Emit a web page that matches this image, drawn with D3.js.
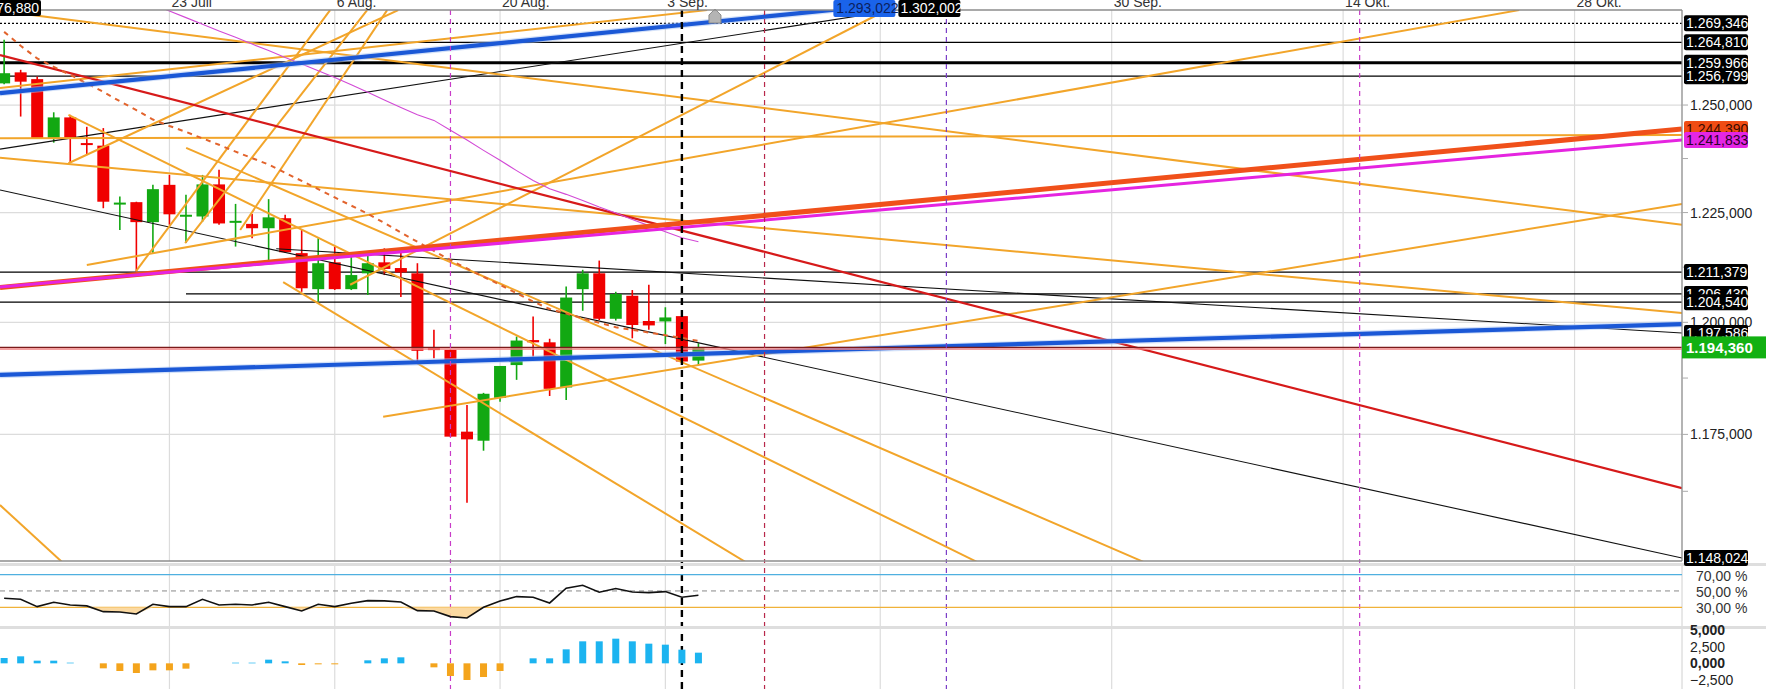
<!DOCTYPE html>
<html><head><meta charset="utf-8">
<script src="https://cdn.jsdelivr.net/npm/d3@7"></script>
<style>body{margin:0;background:#fff;overflow:hidden}svg{display:block;font-family:"Liberation Sans",Arial,sans-serif}</style>
</head><body><svg id="c" width="1766" height="689"></svg>
<script>
// ---------- DATA ----------
const candleDates = ["2018-07-09","2018-07-10","2018-07-11","2018-07-12","2018-07-13",
"2018-07-16","2018-07-17","2018-07-18","2018-07-19","2018-07-20",
"2018-07-23","2018-07-24","2018-07-25","2018-07-26","2018-07-27",
"2018-07-30","2018-07-31","2018-08-01","2018-08-02","2018-08-03",
"2018-08-06","2018-08-07","2018-08-08","2018-08-09","2018-08-10",
"2018-08-13","2018-08-14","2018-08-15","2018-08-16","2018-08-17",
"2018-08-20","2018-08-21","2018-08-22","2018-08-23","2018-08-24",
"2018-08-27","2018-08-28","2018-08-29","2018-08-30","2018-08-31",
"2018-09-03","2018-09-04","2018-09-05"];
const openP  = [1255.1,1257.7,1256.1,1242.2,1247.1,1241.1,1240.5,1227.2,1227.4,1222.8,1231.4,1224.4,1224.1,1231.5,1223.0,1222.4,1221.4,1223.7,1215.7,1207.5,1213.6,1207.5,1211.1,1213.6,1212.3,1211.1,1194.2,1193.8,1175.6,1173.6,1183.1,1190.4,1196.0,1195.5,1185.4,1207.5,1211.1,1200.8,1206.0,1200.3,1200.2,1201.4,1191.4];
const highP  = [1265.4,1258.3,1256.7,1248.3,1247.7,1244.9,1244.6,1228.7,1227.5,1231.4,1233.7,1229.1,1233.7,1234.9,1227.0,1224.7,1228.1,1224.5,1221.0,1219.1,1217.2,1215.1,1215.3,1216.8,1216.0,1213.4,1198.3,1193.9,1181.5,1184.2,1190.2,1196.8,1201.3,1196.3,1208.1,1211.9,1214.0,1206.9,1207.3,1208.5,1203.4,1201.4,1195.3];
const lowP   = [1254.9,1247.3,1242.1,1241.2,1236.5,1238.3,1226.0,1221.0,1211.5,1215.7,1222.2,1218.0,1222.9,1222.2,1217.2,1219.1,1214.1,1215.8,1206.9,1204.7,1207.3,1207.3,1206.2,1210.7,1205.7,1191.2,1191.9,1174.4,1160.0,1171.4,1182.2,1187.1,1192.3,1183.5,1182.6,1202.6,1200.5,1200.4,1196.4,1198.3,1195.1,1190.9,1190.4];
const closeP = [1257.5,1255.5,1242.2,1247.1,1242.2,1241.0,1227.5,1227.3,1222.8,1230.4,1224.6,1224.5,1231.5,1222.5,1223.1,1221.4,1223.9,1215.9,1207.7,1213.4,1207.5,1210.7,1213.4,1212.1,1211.3,1193.6,1193.8,1174.5,1173.9,1184.0,1190.2,1195.9,1195.5,1185.1,1205.6,1211.1,1200.8,1206.4,1199.4,1199.3,1201.1,1191.2,1194.36];
const maFast = [1267.3,1264.0,1261.0,1259.0,1257.1,1255.1,1253.1,1250.9,1248.8,1246.6,1245.1,1243.7,1242.2,1240.7,1239.1,1237.6,1236.1,1234.2,1232.3,1230.4,1228.5,1226.6,1224.7,1222.6,1220.4,1218.3,1216.2,1214.1,1212.2,1210.3,1208.5,1206.6,1204.7,1203.0,1202.0,1200.9,1199.9,1198.9,1198.3,1197.7,1197.1,1196.5,1195.8];
const maSlow = [null,null,null,null,null,null,null,null,null,1273.8,1272.3,1270.7,1269.1,1267.5,1266.0,1264.4,1262.9,1261.2,1259.7,1258.1,1256.5,1254.8,1253.0,1251.2,1249.4,1247.7,1246.4,1244.1,1241.8,1239.4,1237.1,1234.7,1232.4,1230.5,1229.2,1227.8,1226.3,1224.9,1223.4,1222.0,1220.6,1219.2,1218.3];
const rsiValues = [41.0,39.8,30.8,36.1,32.9,31.7,24.7,24.3,21.9,33.7,30.8,30.8,39.8,32.9,33.7,32.9,36.1,30.8,25.5,33.7,30.8,34.9,38.2,37.8,36.5,25.9,25.5,18.6,17.0,30.0,37.8,43.1,42.3,35.3,53.3,56.9,48.4,52.9,48.8,48.0,49.2,42.3,44.7];
const histValues = [0.8,1.05,0.4,0.4,0.1,0,-0.75,-1.15,-1.45,-1.05,-1.05,-0.8,0,0,0.1,0.1,0.55,0.3,-0.25,-0.15,-0.15,0,0.45,0.75,0.9,0,-0.6,-1.9,-2.5,-2.05,-1.15,0,0.75,0.75,2.1,3.3,3.3,3.7,3.3,2.95,2.8,2.05,1.6];

const dateTicks = ["2018-07-23","2018-08-06","2018-08-20","2018-09-03","2018-09-16","2018-09-30","2018-10-14","2018-10-28"];
const dateTickLabels = ["23 Juli","6 Aug.","20 Aug.","3 Sep.","","30 Sep.","14 Okt.","28 Okt."];
const priceTicks = [1250,1225,1200,1175];
const minorPriceTicks = [1237.5,1212.5,1187.5,1162.5];
const rsiTicks = [70,50,30];
const histTicks = [5,2.5,0,-2.5];

// horizontal levels
const levelValues = [1269.346,1264.810,1259.966,1256.799,1211.379,1206.430,1204.540];
const levelStartSlots = [-0.25,-0.25,-0.25,-0.25,-0.25,11,-0.25];
const lastPrice = 1194.36;
const prevPrice = 1194.0;
const leftCutLabel = 1276.88;

// trend lines: [slot1, value1, slot2, value2]  (slot = bar index)
const orangeLines = [
 [-0.25,1254.0,42.53,1272.5],
 [-0.25,1272.3,101.5,1222.2],
 [-0.25,1242.2,101.5,1243.0],
 [5.0,1213.0,91.65,1272.5],
 [22.93,1178.9,101.5,1227.0],
 [-0.25,1237.7,101.5,1202.1],
 [20.93,1208.5,53.18,1272.1],
 [11.01,1240.0,68.92,1147.2],
 [3.89,1247.7,58.84,1147.2],
 [16.88,1209.1,44.83,1147.2],
 [-0.25,1159.5,3.49,1147.2],
 [3.89,1236.4,23.84,1272.5],
 [7.98,1211.6,19.72,1272.5],
 [10.95,1218.0,21.96,1272.5],
 [14.28,1221.0,23.17,1272.5]
];
const thinBlackLines = [
 [-0.25,1239.7,101.5,1302.002],
 [-0.25,1230.2,101.5,1148.024],
 [16.46,1216.7,101.5,1197.586]
];
const blueLines = [
 [-0.25,1252.8,101.5,1293.022],
 [-0.25,1188.2,101.5,1199.6]
];
const redLine = [-0.25,1261.8,101.5,1163.2];
const orangeRedLine = [-0.25,1207.9,101.5,1244.39];
const magentaLine = [-0.25,1208.0,101.5,1241.833];

const markerDate = "2018-09-06";
const vDates = ["2018-08-15","2018-09-04","2018-09-09","2018-09-20","2018-10-15"];

// right-side labels
const boxValues = [1269.346,1264.810,1259.966,1256.799,1244.39,1241.833,1211.379,1206.430,1204.540,1197.586,1148.024];

// ---------- LAYOUT ----------
const PR = 1682, PT = 10, PB = 561;
const svg = d3.select("#c");
const fmt = d3.formatLocale({decimal:",",thousands:".",grouping:[3],currency:["",""]}).format(",.3f");
const fmt2 = d3.formatLocale({decimal:",",thousands:".",grouping:[3],currency:["",""]}).format(",.2f");

const lastDate = new Date(candleDates[candleDates.length-1]+"T00:00:00Z");
function slotOf(ds){
  const i = candleDates.indexOf(ds);
  if (i >= 0) return i;
  const d = new Date(ds+"T00:00:00Z");
  return candleDates.length-1 + Math.round((d-lastDate)/864e5);
}
const x = d3.scaleLinear().domain([-0.25,101.5]).range([0,PR]);
const y = d3.scaleLog().domain([1148.024,1269.346]).range([558,23.3]);
const rsiY = d3.scaleLinear().domain([30,70]).range([607.3,574.6]);
const hY = d3.scaleLinear().domain([-2.5,5]).range([680,630]);

svg.append("defs").append("clipPath").attr("id","pc")
  .append("rect").attr("x",0).attr("y",PT).attr("width",PR).attr("height",PB-PT);

// vertical grid (all panels)
const grid = svg.append("g");
dateTicks.forEach(d=>{
  const xx = x(slotOf(d));
  [[PT,PB],[566,626],[629,689]].forEach(r=>{
    grid.append("line").attr("x1",xx).attr("x2",xx).attr("y1",r[0]).attr("y2",r[1])
      .attr("stroke","#dcdcdc").attr("stroke-width",1.2);
  });
});
priceTicks.forEach(v=>{
  grid.append("line").attr("x1",0).attr("x2",PR).attr("y1",y(v)).attr("y2",y(v))
    .attr("stroke","#dcdcdc").attr("stroke-width",1.2);
});

const main = svg.append("g").attr("clip-path","url(#pc)");

// horizontal levels
levelValues.forEach((v,i)=>{
  const l = main.append("line").attr("x1",x(levelStartSlots[i])).attr("x2",PR)
    .attr("y1",y(v)).attr("y2",y(v)).attr("stroke","#000")
    .attr("stroke-width", i===2 ? 3 : 1.3);
  if (i===0) l.attr("stroke-dasharray","2,2").attr("stroke-width",1.3);
});

// candles
const cg = main.append("g");
candleDates.forEach((d,i)=>{
  const up = closeP[i] >= openP[i];
  const col = up ? "#12a812" : "#f00000";
  const xx = x(i);
  cg.append("line").attr("x1",xx).attr("x2",xx).attr("y1",y(highP[i])).attr("y2",y(lowP[i]))
    .attr("stroke",col).attr("stroke-width",1.6);
  const t = y(Math.max(openP[i],closeP[i])), b = y(Math.min(openP[i],closeP[i]));
  cg.append("rect").attr("x",xx-6).attr("width",12).attr("y",t).attr("height",Math.max(2,b-t))
    .attr("fill",col);
});

function seg(g, L, color, width, dash){
  const p = g.append("line").attr("x1",x(L[0])).attr("y1",y(L[1])).attr("x2",x(L[2])).attr("y2",y(L[3]))
    .attr("stroke",color).attr("stroke-width",width).attr("stroke-linecap","butt");
  if (dash) p.attr("stroke-dasharray",dash);
  return p;
}
thinBlackLines.forEach(L=>seg(main,L,"#111",1.1));
orangeLines.forEach(L=>seg(main,L,"#f2a52a",2));
seg(main,redLine,"#d61a1a",2.2);

// moving averages
const lineGen = d3.line().defined(v=>v!==null).x((v,i)=>x(i)).y(v=>y(v));
main.append("path").attr("d",lineGen(maFast)).attr("fill","none").attr("stroke","#e2632c")
  .attr("stroke-width",2).attr("stroke-dasharray","5,5");
main.append("path").attr("d",lineGen(maSlow)).attr("fill","none").attr("stroke","#d24ad6")
  .attr("stroke-width",1.1);

seg(main,orangeRedLine,"#f0501a",5);
seg(main,magentaLine,"#e524e0",3);
blueLines.forEach((L,i)=>{ seg(main,L,"#a8c4f4",6.5).attr("opacity",0.5); seg(main,L,"#1b58d6",4.2); });

// last price lines
main.append("line").attr("x1",0).attr("x2",PR).attr("y1",y(prevPrice)).attr("y2",y(prevPrice))
  .attr("stroke","#f08080").attr("stroke-width",1.5);
main.append("line").attr("x1",0).attr("x2",PR).attr("y1",y(lastPrice)).attr("y2",y(lastPrice))
  .attr("stroke","#7a1a1a").attr("stroke-width",1.3);

// vertical dashed lines
const vStyles = [["#c83cc8",1.2,"5,4"],["#000",2.4,"7,5"],["#b8284a",1.2,"5,4"],["#7a3cc8",1.2,"5,4"],["#c83cc8",1.2,"5,4"]];
vDates.forEach((d,i)=>{
  const xx = x(slotOf(d));
  svg.append("line").attr("x1",xx).attr("x2",xx).attr("y1",PT).attr("y2",689)
    .attr("stroke",vStyles[i][0]).attr("stroke-width",vStyles[i][1]).attr("stroke-dasharray",vStyles[i][2]);
});

// marker (house shape)
{
  const mx = x(slotOf(markerDate));
  svg.append("path").attr("d",`M${mx-6},23 L${mx-6},15 L${mx},9 L${mx+6},15 L${mx+6},23 Z`)
    .attr("fill","#b4b4b4").attr("stroke","#8a8a8a").attr("stroke-width",1);
}

// borders
svg.append("line").attr("x1",0).attr("x2",PR).attr("y1",PT).attr("y2",PT).attr("stroke","#8c8c8c").attr("stroke-width",1.3);
svg.append("line").attr("x1",0).attr("x2",PR).attr("y1",PB).attr("y2",PB).attr("stroke","#8c8c8c").attr("stroke-width",1.3);
svg.append("line").attr("x1",PR).attr("x2",PR).attr("y1",PT).attr("y2",PB).attr("stroke","#8c8c8c").attr("stroke-width",1.3);
svg.append("rect").attr("x",0).attr("y",563).attr("width",1766).attr("height",3).attr("fill","#dedede");
svg.append("rect").attr("x",0).attr("y",626).attr("width",1766).attr("height",3).attr("fill","#dedede");
svg.append("line").attr("x1",PR).attr("x2",PR).attr("y1",566).attr("y2",626).attr("stroke","#d0d0d0");
svg.append("line").attr("x1",PR).attr("x2",PR).attr("y1",629).attr("y2",689).attr("stroke","#d0d0d0");

// date labels
dateTicks.forEach((d,i)=>{
  if (!dateTickLabels[i]) return;
  svg.append("text").attr("x",x(slotOf(d))+2).attr("y",7).attr("font-size",14).attr("fill","#333")
    .text(dateTickLabels[i]);
});

// price axis ticks & labels
const ax = svg.append("g");
priceTicks.concat(minorPriceTicks).forEach(v=>{
  ax.append("line").attr("x1",PR).attr("x2",PR+6).attr("y1",y(v)).attr("y2",y(v)).attr("stroke","#aaa");
});
priceTicks.forEach(v=>{
  ax.append("text").attr("x",1690).attr("y",y(v)+5).attr("font-size",14).attr("fill","#222").text(fmt(v));
});

// top-exit labels for blue & black rising lines
function topExitX(L){
  const x1=x(L[0]),y1=y(L[1]),x2=x(L[2]),y2=y(L[3]);
  const t=(y1-PT)/(y1-y2); return x1+t*(x2-x1);
}
{
  const bx = topExitX(blueLines[0]);
  svg.append("rect").attr("x",bx+2).attr("y",0).attr("width",62).attr("height",17).attr("rx",2).attr("fill","#1a63ea");
  svg.append("text").attr("x",bx+5).attr("y",13).attr("font-size",14).attr("fill","#0b1f5e").text(fmt(blueLines[0][3]));
  const kx = topExitX(thinBlackLines[0]);
  svg.append("rect").attr("x",kx+2).attr("y",0).attr("width",62).attr("height",17).attr("rx",2).attr("fill","#000");
  svg.append("text").attr("x",kx+4).attr("y",13).attr("font-size",14).attr("fill","#fff").text(fmt(thinBlackLines[0][3]));
  svg.append("rect").attr("x",-30).attr("y",0).attr("width",71).attr("height",16).attr("rx",2).attr("fill","#000");
  svg.append("text").attr("x",39).attr("y",13).attr("text-anchor","end").attr("font-size",14).attr("fill","#fff").text(fmt(leftCutLabel));
}

// right boxes
const boxStyle = v => v===1244.39 ? ["#f04c14","#3a0a00"] : v===1241.833 ? ["#e426e4","#2a002a"] : ["#000","#fff"];
boxValues.slice().sort((a,b)=>b-a).forEach(v=>{
  const [bg,fg] = boxStyle(v);
  const yy = y(v);
  svg.append("rect").attr("x",1684).attr("y",yy-8).attr("width",64).attr("height",16).attr("rx",2).attr("fill",bg);
  svg.append("text").attr("x",1686).attr("y",yy+5).attr("font-size",14).attr("fill",fg).text(fmt(v));
});
{
  const yy = y(lastPrice);
  svg.append("rect").attr("x",1682).attr("y",yy-11).attr("width",84).attr("height",22).attr("fill","#12b012");
  svg.append("text").attr("x",1686).attr("y",yy+5.5).attr("font-size",15).attr("font-weight","bold").attr("fill","#fff").text(fmt(lastPrice));
}

// ---------- RSI PANEL ----------
const rsi = svg.append("g");
rsi.append("line").attr("x1",0).attr("x2",PR).attr("y1",rsiY(70)).attr("y2",rsiY(70)).attr("stroke","#4fb0e0").attr("stroke-width",1.3);
rsi.append("line").attr("x1",0).attr("x2",PR).attr("y1",rsiY(50)).attr("y2",rsiY(50)).attr("stroke","#888").attr("stroke-width",1).attr("stroke-dasharray","5,4");
rsi.append("line").attr("x1",0).attr("x2",PR).attr("y1",rsiY(30)).attr("y2",rsiY(30)).attr("stroke","#f0b23a").attr("stroke-width",1.3);
const area = d3.area().x((v,i)=>x(i)).y0(rsiY(30)).y1(v=>rsiY(Math.min(v,30)));
rsi.append("path").attr("d",area(rsiValues)).attr("fill","#fbd597").attr("opacity",0.9);
rsi.append("path").attr("d",d3.line().x((v,i)=>x(i)).y(v=>rsiY(v))(rsiValues))
  .attr("fill","none").attr("stroke","#111").attr("stroke-width",1.6);
rsiTicks.forEach(v=>{
  rsi.append("text").attr("x",1696).attr("y",rsiY(v)+6).attr("font-size",14).attr("fill","#333").text(fmt2(v)+" %");
});

// ---------- HISTOGRAM PANEL ----------
const hg = svg.append("g");
histValues.forEach((v,i)=>{
  if (v===0) return;
  const t = hY(Math.max(v,0)), b = hY(Math.min(v,0));
  hg.append("rect").attr("x",x(i)-3.5).attr("width",7).attr("y",t).attr("height",b-t)
    .attr("fill", v>0 ? "#1cb4f0" : "#f4a41c");
});
histTicks.forEach(v=>{
  hg.append("text").attr("x",1690).attr("y",hY(v)+5).attr("font-size",14)
    .attr("font-weight",(v===5||v===0)?"bold":"normal").attr("fill","#222").text(fmt(v));
});
</script>
</body></html>
